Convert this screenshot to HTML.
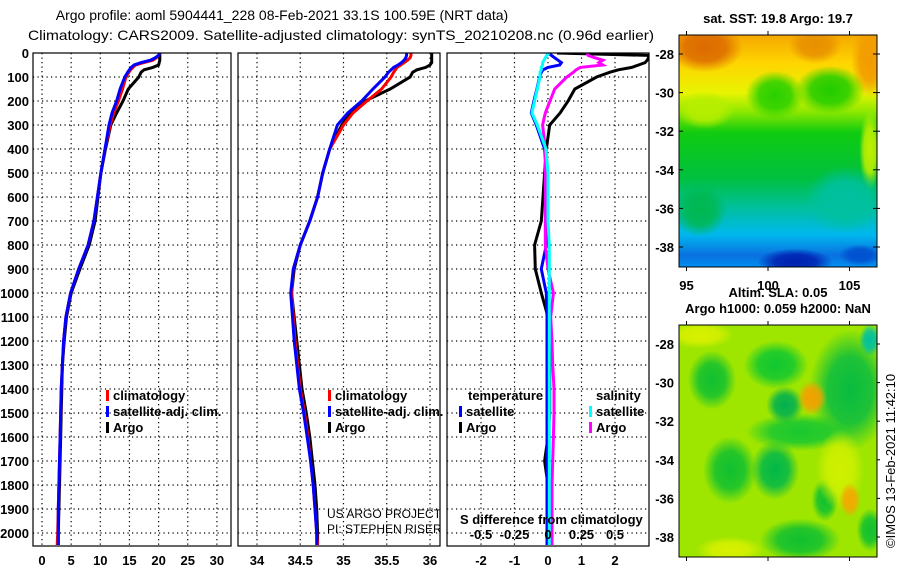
<!DOCTYPE html>
<html><head><meta charset="utf-8">
<style>
html,body{margin:0;padding:0;background:#fff;}
svg{display:block;font-family:"Liberation Sans",sans-serif;}
.b{font-weight:bold;font-size:13px;}
.t{font-size:14px;}
</style></head>
<body>
<svg id="fig" width="900" height="580" viewBox="0 0 900 580">
<defs id="defs">
<clipPath id="c1"><rect x="33" y="53" width="198" height="493"/></clipPath>
<clipPath id="c2"><rect x="238" y="53" width="202" height="493"/></clipPath>
<clipPath id="c3"><rect x="447" y="53" width="202" height="493"/></clipPath>
<clipPath id="cm1"><rect x="679" y="35" width="198" height="232"/></clipPath>
<clipPath id="cm2"><rect x="679" y="325" width="198" height="232"/></clipPath>
<linearGradient id="sstg" x1="0" y1="0" x2="0" y2="1">
<stop offset="0" stop-color="#f5a800"/><stop offset="0.12" stop-color="#ffd400"/>
<stop offset="0.25" stop-color="#e8f400"/><stop offset="0.33" stop-color="#8ee800"/>
<stop offset="0.42" stop-color="#10cc10"/><stop offset="0.62" stop-color="#00c040"/>
<stop offset="0.74" stop-color="#00c09a"/><stop offset="0.86" stop-color="#00b8ee"/>
<stop offset="0.95" stop-color="#0a70e0"/><stop offset="1" stop-color="#0090f0"/>
</linearGradient>
</defs>

<text x="282" y="20" text-anchor="middle" class="t">Argo profile: aoml 5904441_228 08-Feb-2021 33.1S 100.59E (NRT data)</text>
<text x="28" y="40" class="t" textLength="626" lengthAdjust="spacingAndGlyphs">Climatology: CARS2009. Satellite-adjusted climatology: synTS_20210208.nc (0.96d earlier)</text>

<g id="grids"></g>
<g id="traces"></g>
<g id="axes"></g>

<g class="b">
<rect x="106" y="390" width="3" height="11" fill="#f00"/><text x="113" y="400">climatology</text>
<rect x="106" y="406" width="3" height="11" fill="#00f"/><text x="113" y="416">satellite-adj. clim.</text>
<rect x="106" y="422" width="3" height="11" fill="#000"/><text x="113" y="432">Argo</text>
</g>
<g class="b">
<rect x="328" y="390" width="3" height="11" fill="#f00"/><text x="335" y="400">climatology</text>
<rect x="328" y="406" width="3" height="11" fill="#00f"/><text x="335" y="416">satellite-adj. clim.</text>
<rect x="328" y="422" width="3" height="11" fill="#000"/><text x="335" y="432">Argo</text>
</g>
<g clip-path="url(#c2)" font-size="12">
<text x="327" y="518">US ARGO PROJECT</text>
<text x="327" y="533">PI: STEPHEN RISER</text>
</g>
<g class="b">
<text x="468" y="400">temperature</text><text x="596" y="400">salinity</text>
<rect x="459" y="406" width="3" height="11" fill="#00f"/><text x="466" y="416">satellite</text>
<rect x="459" y="422" width="3" height="11" fill="#000"/><text x="466" y="432">Argo</text>
<rect x="589" y="406" width="3" height="11" fill="#0ff"/><text x="596" y="416">satellite</text>
<rect x="589" y="422" width="3" height="11" fill="#f0f"/><text x="596" y="432">Argo</text>
<text x="460" y="524">S difference from climatology</text>
</g>
<g id="sdlabels" class="b"></g>

<!-- maps -->
<text x="778" y="23" text-anchor="middle" class="b">sat. SST: 19.8 Argo: 19.7</text>
<g clip-path="url(#cm1)">
<rect x="679" y="35" width="198" height="232" fill="url(#sstg)"/>
<g class="blobs">
<ellipse cx="705" cy="48" rx="28" ry="18" fill="#dc6a00"/>
<ellipse cx="815" cy="45" rx="20" ry="14" fill="#e89000"/>
<ellipse cx="870" cy="60" rx="14" ry="28" fill="#f29a00"/>
<ellipse cx="775" cy="95" rx="22" ry="18" fill="#28d000"/>
<ellipse cx="830" cy="90" rx="26" ry="18" fill="#20cc00"/>
<ellipse cx="705" cy="110" rx="22" ry="14" fill="#b8ee00"/>
<ellipse cx="870" cy="150" rx="8" ry="30" fill="#c0f000"/>
<ellipse cx="845" cy="200" rx="30" ry="25" fill="#00c0a0"/>
<ellipse cx="700" cy="210" rx="20" ry="20" fill="#00b850"/>
<ellipse cx="795" cy="262" rx="28" ry="10" fill="#0020b0"/>
<ellipse cx="860" cy="255" rx="16" ry="8" fill="#0050d0"/>
</g>
</g>
<rect x="679" y="35" width="198" height="232" fill="none" stroke="#000"/>
<g id="maplabels" class="b"></g>
<text x="778" y="297" text-anchor="middle" class="b">Altim. SLA: 0.05</text>
<text x="778" y="313" text-anchor="middle" class="b">Argo h1000: 0.059 h2000: NaN</text>
<g clip-path="url(#cm2)">
<rect x="679" y="325" width="198" height="232" fill="#9ee600"/>
<g class="blobs">
<ellipse cx="712" cy="380" rx="18" ry="22" fill="#10c030"/>
<ellipse cx="776" cy="365" rx="24" ry="18" fill="#10c830"/>
<ellipse cx="850" cy="390" rx="30" ry="45" fill="#08bc40"/>
<ellipse cx="800" cy="432" rx="40" ry="14" fill="#18c830"/>
<ellipse cx="785" cy="405" rx="14" ry="14" fill="#00b050"/>
<ellipse cx="730" cy="470" rx="20" ry="25" fill="#10c030"/>
<ellipse cx="775" cy="470" rx="18" ry="22" fill="#00b848"/>
<ellipse cx="825" cy="500" rx="10" ry="16" fill="#10c030"/>
<ellipse cx="800" cy="540" rx="30" ry="16" fill="#10c030"/>
<ellipse cx="870" cy="530" rx="10" ry="16" fill="#10c030"/>
<ellipse cx="870" cy="340" rx="8" ry="12" fill="#00c0a0"/>
<ellipse cx="700" cy="335" rx="25" ry="10" fill="#d8f000"/>
<ellipse cx="840" cy="470" rx="18" ry="30" fill="#d0f000"/>
<ellipse cx="730" cy="550" rx="25" ry="10" fill="#d8f000"/>
<ellipse cx="812" cy="398" rx="11" ry="13" fill="#f4a000"/>
<ellipse cx="850" cy="500" rx="8" ry="13" fill="#f4a800"/>
</g>
</g>
<rect x="679" y="325" width="198" height="232" fill="none" stroke="#000"/>
<text transform="translate(895,548) rotate(-90)" font-size="13">©IMOS 13-Feb-2021 11:42:10</text>

<script>
// ---- data ----
const depths   = [0,10,20,30,40,50,60,70,80,100,150,200,250,300,400,500,600,700,800,900,1000,1100,1200,1300,1400,1500,1600,1700,1800,1900,2000,2050];
const tempClim = [20.2,20.0,19.6,19.0,17.5,16.0,15.6,15.2,14.9,14.4,13.8,13.1,12.3,11.7,10.8,10.1,9.5,8.9,7.9,6.3,4.9,4.1,3.7,3.5,3.3,3.2,3.1,3.0,2.9,2.8,2.7,2.6];
const tempSat  = [20.2,20.0,19.4,18.6,17.0,15.8,15.3,15.0,14.7,14.2,13.4,12.8,12.0,11.5,10.8,10.1,9.5,8.9,7.9,6.3,4.9,4.1,3.7,3.5,3.3,3.2,3.1,3.0,2.9,2.8,2.8,2.8];
const tempArgo = [20.2,20.2,20.2,20.2,20.1,20.0,19.0,17.5,17.0,16.6,14.8,13.9,12.8,11.8,10.9,10.1,9.6,9.1,8.1,6.5,5.0,4.2,3.8,3.5,3.4,3.3,3.2,3.1,3.0,2.9,2.8,2.8];
const salClim  = [35.78,35.78,35.77,35.74,35.70,35.66,35.62,35.60,35.58,35.55,35.44,35.27,35.11,35.00,34.84,34.76,34.70,34.61,34.50,34.42,34.40,34.42,34.44,34.47,34.50,34.55,34.59,34.62,34.65,34.67,34.69,34.70];
const salSat   = [35.73,35.73,35.72,35.70,35.67,35.63,35.58,35.55,35.52,35.48,35.34,35.21,35.05,34.93,34.84,34.76,34.70,34.61,34.50,34.42,34.39,34.41,34.43,34.46,34.49,34.54,34.58,34.62,34.65,34.67,34.69,34.69];
const salArgo  = [36.02,36.02,36.02,36.02,36.02,36.00,35.95,35.85,35.80,35.77,35.54,35.25,35.08,34.98,34.84,34.76,34.70,34.61,34.50,34.43,34.40,34.43,34.46,34.49,34.52,34.57,34.61,34.64,34.67,34.69,34.70,34.70];
const dTempSat = [0.0,0.1,0.2,0.3,0.4,0.35,0.0,-0.15,-0.2,-0.25,-0.33,-0.42,-0.5,-0.35,-0.1,-0.05,-0.03,-0.03,-0.05,-0.2,-0.05,-0.03,-0.03,-0.03,-0.03,-0.03,-0.03,-0.03,-0.03,-0.03,-0.03,-0.03];
const dTempArgo= [0.27,3.0,3.0,2.96,2.9,2.7,2.5,2.1,1.85,1.45,0.8,0.6,0.36,0.05,-0.05,-0.1,-0.15,-0.2,-0.4,-0.38,-0.2,0.0,0.05,0.05,0.05,0.05,0.0,-0.1,0.0,0.0,0.0,0.0];
const dSalSat  = [0.01,-0.01,-0.02,-0.03,-0.04,-0.04,-0.05,-0.05,-0.06,-0.06,-0.08,-0.1,-0.12,-0.08,-0.015,0.0,0.0,0.0,0.01,0.01,0.01,0.01,0.01,0.01,0.01,0.01,0.01,0.01,0.01,0.01,0.01,0.01];
const dSalArgo = [0.29,0.3,0.35,0.41,0.38,0.41,0.24,0.21,0.19,0.14,0.05,0.015,-0.02,-0.04,-0.02,-0.02,-0.02,-0.02,-0.02,0.0,0.04,0.02,0.03,0.035,0.045,0.045,0.04,0.035,0.03,0.03,0.03,0.03];
const depthTicks = [0,100,200,300,400,500,600,700,800,900,1000,1100,1200,1300,1400,1500,1600,1700,1800,1900,2000];
const tempTicks = [0,5,10,15,20,25,30];
const salTicks  = [34,34.5,35,35.5,36];
const diffTicks = [-2,-1,0,1,2];
const sdTickLabels = ["-0.5","-0.25","0","0.25","0.5"];
const sdTickValues = [-0.5,-0.25,0,0.25,0.5];
const latTicks = [-28,-30,-32,-34,-36,-38];
const lonTicks = [95,100,105];

// ---- scales ----
const yD = d => 53 + d*0.24;
const xT = t => 42 + t*5.83;
const xS = s => 257 + (s-34)*86.5;
const xDf = v => 548 + v*33.5;
const xSD = s => 548 + s*134;
const yLat1 = la => 54 + (-28-la)*19.3;
const yLat2 = la => 344 + (-28-la)*19.3;
const xLon = lo => 686.5 + (lo-95)*16.3;

const NS="http://www.w3.org/2000/svg";
function mk(tag, attrs, parent, txt){
  const e=document.createElementNS(NS,tag);
  for(const k in attrs) e.setAttribute(k,attrs[k]);
  if(txt!==undefined) e.textContent=txt;
  parent.appendChild(e); return e;
}
// soft blobs via radial gradients
const defs=document.getElementById('defs');
let gi=0;
document.querySelectorAll('.blobs ellipse').forEach(el=>{
  const c=el.getAttribute('fill'); const id='rg'+(gi++);
  const g=mk('radialGradient',{id:id},defs);
  mk('stop',{offset:'0','stop-color':c,'stop-opacity':'1'},g);
  mk('stop',{offset:'0.55','stop-color':c,'stop-opacity':'0.85'},g);
  mk('stop',{offset:'1','stop-color':c,'stop-opacity':'0'},g);
  el.setAttribute('fill','url(#'+id+')');
  el.setAttribute('rx',(+el.getAttribute('rx'))*1.35);
  el.setAttribute('ry',(+el.getAttribute('ry'))*1.35);
});
const grids=document.getElementById('grids'), traces=document.getElementById('traces'), axes=document.getElementById('axes');
const panels=[{x0:33,x1:231,xs:xT,ticks:tempTicks,name:'temperature'},{x0:238,x1:440,xs:xS,ticks:salTicks,name:'salinity'},{x0:447,x1:649,xs:xDf,ticks:diffTicks,name:'difference'}];
panels.forEach((p,i)=>{
  depthTicks.forEach(d=>{ if(d===0) return;
    const l=mk('line',{x1:p.x0,x2:p.x1,y1:yD(d),y2:yD(d),stroke:'#000','stroke-dasharray':'1.2 3.3','stroke-width':1.2},grids);
    
    
  });
  p.ticks.forEach(v=>{
    const x=p.xs(v);
    const l=mk('line',{x1:x,x2:x,y1:53,y2:546,stroke:'#000','stroke-dasharray':'1.2 3.3','stroke-width':1.2},grids);
    
    
    const t=mk('text',{x:x,y:565,'text-anchor':'middle','class':'b'},axes,String(v));
    
    
  });
  const r=mk('rect',{x:p.x0,y:53,width:p.x1-p.x0,height:493,fill:'none',stroke:'#000','stroke-width':1.2},axes);
  
  
});
depthTicks.forEach(d=>{
  const t=mk('text',{x:29,y:yD(d)+5,'text-anchor':'end','class':'b'},axes,String(d));
  
  
});
const sdl=document.getElementById('sdlabels');
sdTickValues.forEach((v,i)=>{
  const t=mk('text',{x:xSD(v),y:539,'text-anchor':'middle'},sdl,sdTickLabels[i]);
  
  
});
function trace(vals,xs,color,clip,name,w){
  const pts=vals.map((v,i)=>xs(v).toFixed(1)+','+yD(depths[i]).toFixed(1)).join(' ');
  const g=mk('polyline',{points:pts,fill:'none',stroke:color,'stroke-width':w||3,'stroke-linejoin':'miter','clip-path':'url(#'+clip+')'},traces);
  
  
}
trace(tempArgo,xT,'#000','c1','temperature-argo-line');
trace(tempClim,xT,'#f00','c1','temperature-climatology-line');
trace(tempSat,xT,'#00f','c1','temperature-satellite-line');
trace(salArgo,xS,'#000','c2','salinity-argo-line');
trace(salClim,xS,'#f00','c2','salinity-climatology-line');
trace(salSat,xS,'#00f','c2','salinity-satellite-line');
trace(dTempArgo,xDf,'#000','c3','temp-diff-argo-line');
trace(dTempSat,xDf,'#00f','c3','temp-diff-satellite-line');
trace(dSalArgo,xSD,'#f0f','c3','sal-diff-argo-line');
trace(dSalSat,xSD,'#0ff','c3','sal-diff-satellite-line');

const ml=document.getElementById('maplabels');
latTicks.forEach(la=>{
  [yLat1(la),yLat2(la)].forEach((y,k)=>{
    const t=mk('text',{x:674,y:y+5,'text-anchor':'end'},ml,String(la));
    
    
    mk('line',{x1:679,x2:683,y1:y,y2:y,stroke:'#000'},ml);
    mk('line',{x1:873,x2:880,y1:y,y2:y,stroke:'#000'},ml);
  });
});
lonTicks.forEach(lo=>{
  const x=xLon(lo);
  const t=mk('text',{x:x,y:290,'text-anchor':'middle'},ml,String(lo));
  
  
  [[31,35],[267,271],[321,325],[557,561]].forEach(a=>mk('line',{x1:x,x2:x,y1:a[0],y2:a[1],stroke:'#000'},ml));
});
</script>
</svg>
</body></html>
